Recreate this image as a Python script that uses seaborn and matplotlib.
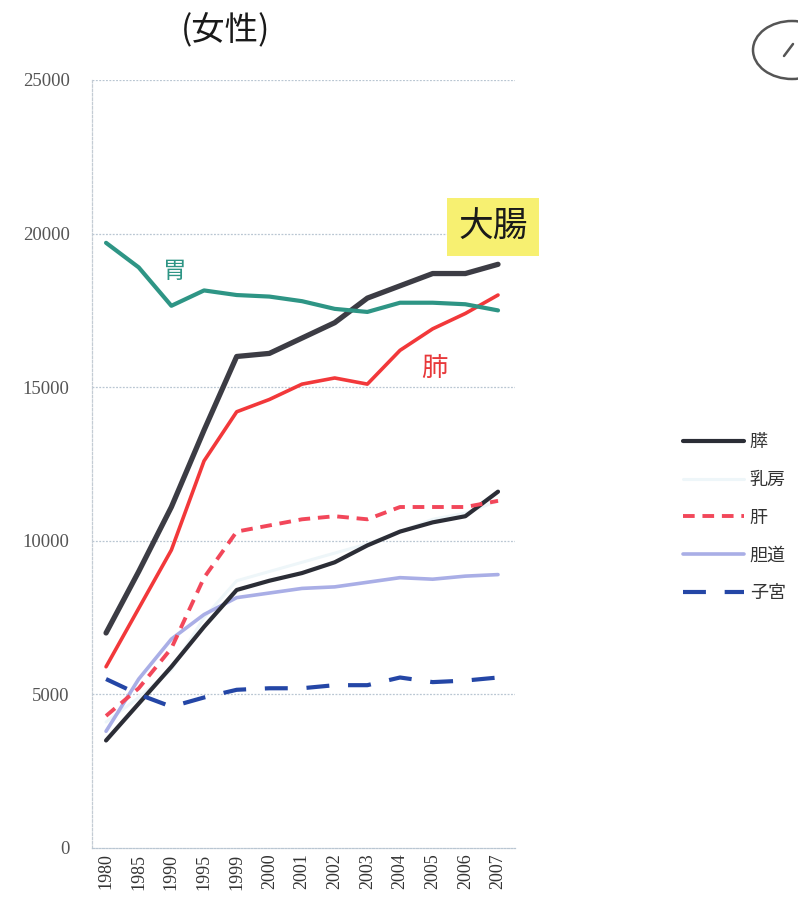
import matplotlib
matplotlib.use("Agg")
import matplotlib.pyplot as plt
from matplotlib.patches import Ellipse
from matplotlib.lines import Line2D
import numpy as np
import pandas as pd
import seaborn as sns

# --- data -------------------------------------------------------------
years = ["1980", "1985", "1990", "1995", "1999", "2000", "2001",
         "2002", "2003", "2004", "2005", "2006", "2007"]

stomach = [19700, 18900, 17650, 18150, 18000, 17950, 17800, 17550, 17450, 17750, 17750, 17700, 17500]
colon = [7000, 9000, 11100, 13600, 16000, 16100, 16600, 17100, 17900, 18300, 18700, 18700, 19000]
lung = [5900, 7800, 9700, 12600, 14200, 14600, 15100, 15300, 15100, 16200, 16900, 17400, 18000]
pancreas = [3500, 4700, 5900, 7200, 8400, 8700, 8950, 9300, 9850, 10300, 10600, 10800, 11600]
breast = [4100, 4900, 5800, 7500, 8700, 9000, 9300, 9600, 9900, 10300, 10700, 10900, 11300]
liver = [4300, 5200, 6500, 8800, 10300, 10500, 10700, 10800, 10700, 11100, 11100, 11100, 11300]
biliary = [3800, 5500, 6800, 7600, 8150, 8300, 8450, 8500, 8650, 8800, 8750, 8850, 8900]
uterus = [5500, 5000, 4600, 4900, 5150, 5200, 5200, 5300, 5300, 5550, 5400, 5450, 5550]

y_ticks = [0, 5000, 10000, 15000, 20000, 25000]

series = {
    "胃": stomach, "大腸": colon, "肺": lung, "膵": pancreas,
    "乳房": breast, "肝": liver, "胆道": biliary, "子宮": uterus,
}

styles = {
    "乳房": dict(color="#eef6f9", lw=2.2, dash=None),
    "胆道": dict(color="#a9aee6", lw=2.6, dash=None),
    "膵":   dict(color="#2b2d36", lw=3.0, dash=None),
    "肝":   dict(color="#f2475a", lw=2.8, dash=(3.0, 2.0)),
    "子宮": dict(color="#2446a6", lw=3.0, dash=(5.5, 4.5)),
    "肺":   dict(color="#f2383a", lw=2.6, dash=None),
    "大腸": dict(color="#3c3c44", lw=3.8, dash=None),
    "胃":   dict(color="#2e9585", lw=3.0, dash=None),
}

rows = []
for name, vals in series.items():
    for i, v in enumerate(vals):
        rows.append({"pos": i, "year": years[i], "name": name, "value": v})
df = pd.DataFrame(rows)

# --- figure -----------------------------------------------------------
sns.set_theme(style="white")
plt.rcParams["font.family"] = ["Noto Sans CJK JP", "DejaVu Sans"]

fig = plt.figure(figsize=(7.98, 9.06), dpi=100)
ax = fig.add_axes([92 / 798, 1 - 848 / 906, (515 - 92) / 798, (848 - 80) / 906])

for name in ["乳房", "胆道", "膵", "肝", "子宮", "肺", "大腸", "胃"]:
    st = styles[name]
    sub = df[df["name"] == name]
    sns.lineplot(data=sub, x="pos", y="value", ax=ax, color=st["color"],
                 linewidth=st["lw"], legend=False, sort=False)
    ln = ax.lines[-1]
    if st["dash"] is not None:
        ln.set_dashes(st["dash"])
    ln.set_solid_capstyle("round")
    ln.set_label(name)

ax.set_xlim(-0.43, 12.52)
ax.set_ylim(0, 25000)
ax.set_xticks(range(len(years)))
ax.set_xticklabels(years, rotation=90, family=["Liberation Serif"],
                   fontsize=13, color="#333333")
ax.set_yticks(y_ticks)
ax.set_yticklabels([str(t) for t in y_ticks], family=["Liberation Serif"],
                   fontsize=13.5, color="#555555")
ax.tick_params(axis="y", pad=16, length=0)
ax.tick_params(axis="x", pad=4, length=0)
ax.set_xlabel("")
ax.set_ylabel("")

for t in y_ticks[1:]:
    ax.axhline(t, color="#b9c6d2", lw=0.9, ls=(0, (1.5, 1.2)), zorder=0)
for side in ["top", "right"]:
    ax.spines[side].set_visible(False)
ax.spines["left"].set_color("#c4ccd4")
ax.spines["left"].set_linewidth(0.9)
ax.spines["left"].set_linestyle((0, (2, 1.5)))
ax.spines["bottom"].set_color("#b9c6d2")
ax.spines["bottom"].set_linewidth(0.9)
ax.spines["bottom"].set_linestyle((0, (1.5, 1.2)))

# direct labels
ax.text(2.1, 18750, "胃", color="#2e9585", fontsize=17, ha="center", va="center")
ax.text(10.05, 15600, "肺", color="#e8383a", fontsize=19, ha="center", va="center")
ax.text(11.85, 20200, "大腸", color="#1a1a1a", fontsize=25, ha="center", va="center",
        clip_on=False,
        bbox=dict(boxstyle="square,pad=0.33", facecolor="#f7f071", edgecolor="none"))

# title
fig.text(226 / 798, 1 - 31 / 906, "(女性)", fontsize=24, ha="center", va="center",
         color="#1a1a1a")

# legend
legend_names = ["膵", "乳房", "肝", "胆道", "子宮"]
handles = []
for name in legend_names:
    st = styles[name]
    h = Line2D([0], [0], color=st["color"], lw=st["lw"])
    if st["dash"] is not None:
        h.set_dashes(st["dash"])
    handles.append(h)
fig.legend(handles, legend_names, loc="upper left",
           bbox_to_anchor=(683 / 798, 1 - 433 / 906), frameon=False,
           fontsize=13, handlelength=3.4, handletextpad=0.3,
           labelspacing=1.1, borderpad=0, borderaxespad=0,
           labelcolor="#333333")

# hand-drawn circle mark in the corner
fig.add_artist(Ellipse((792 / 798, 1 - 50 / 906), 78 / 798, 58 / 906,
                       transform=fig.transFigure, fill=False,
                       edgecolor="#555555", lw=1.8))
fig.add_artist(Line2D([784 / 798, 793 / 798], [1 - 56 / 906, 1 - 44 / 906],
                      transform=fig.transFigure, color="#555555", lw=1.8))

fig.savefig("out.png", dpi=100, facecolor="white")
